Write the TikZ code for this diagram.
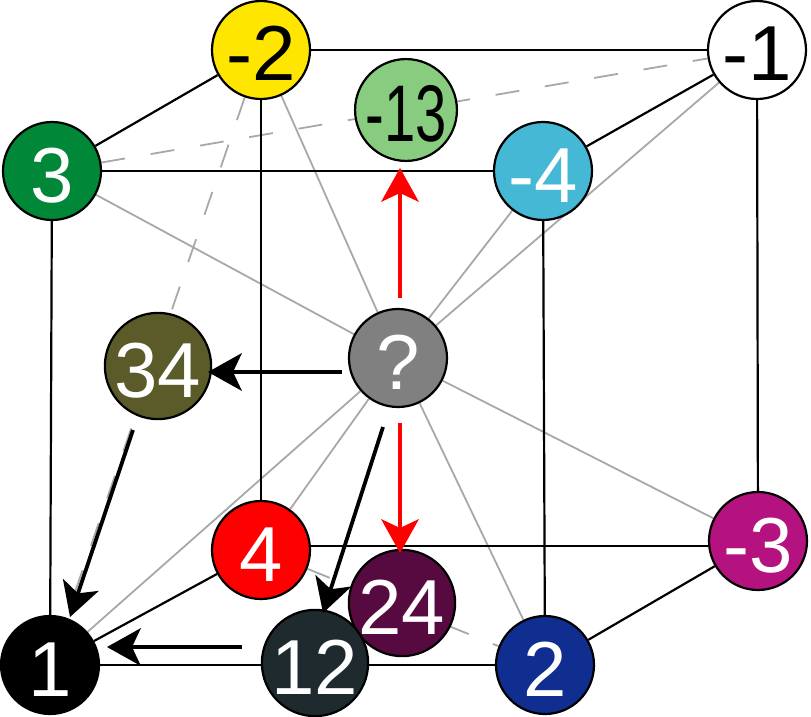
\documentclass[tikz,border=0pt]{standalone}
\usepackage{fontspec}
\setmainfont{Liberation Sans}
\usepackage{graphicx}
\usetikzlibrary{arrows.meta,calc}
\pgfdeclarelayer{bg}
\pgfsetlayers{bg,main}
\definecolor{cyel}{RGB}{255,230,0}
\definecolor{cgreen}{RGB}{0,136,56}
\definecolor{clgreen}{RGB}{136,204,127}
\definecolor{ccyan}{RGB}{69,184,214}
\definecolor{cgray}{RGB}{128,128,128}
\definecolor{colive}{RGB}{91,91,42}
\definecolor{cred}{RGB}{255,0,0}
\definecolor{cpurple}{RGB}{87,10,63}
\definecolor{cslate}{RGB}{30,42,46}
\definecolor{cblue}{RGB}{15,46,143}
\definecolor{cmag}{RGB}{179,18,127}
\definecolor{gline}{RGB}{168,168,168}
\begin{document}
\begin{tikzpicture}[x=1pt,y=-1pt,
  vtx/.style={circle,draw=black,line width=2.2pt,minimum size=98pt,inner sep=0pt,
    text height=62pt,text depth=0pt,
    font=\fontsize{78}{78}\selectfont,text=white},
  edge/.style={line width=2.2pt,draw=black},
  gsolid/.style={line width=1.8pt,draw=gline},
  gdash/.style={gsolid,dash pattern=on 24pt off 26pt},
  arr/.style={line width=3.8pt,draw=black,-{Stealth[length=34pt,width=38pt,inset=9pt,line width=0pt]}},
  rarr/.style={line width=3.6pt,draw=cred,-{Stealth[length=34pt,width=38pt,inset=9pt,line width=0pt]}}]
\useasboundingbox (0,0) rectangle (811,717);

\node[vtx,fill=cyel,text=black] (m2) at (261,50) {-2};
\node[vtx,fill=white,text=black] (m1) at (757,50) {-1};
\node[vtx,fill=cgreen] (n3) at (52,171) {3};
\node[vtx,fill=clgreen,text=black] (m13) at (406,110) {\scalebox{0.72}[1.03]{-13}};
\node[vtx,fill=ccyan] (m4) at (543,171) {-4};
\node[vtx,fill=cgray] (q) at (398,358) {?};
\node[vtx,fill=colive] (n34) at (158,366) {34};
\node[vtx,fill=cred] (n4) at (261,550) {4};
\node[vtx,fill=cpurple] (n24) at (402,603) {24};
\node[vtx,fill=cslate] (n12) at (315,663) {12};
\node[vtx,fill=black] (n1) at (50,665) {1};
\node[vtx,fill=cblue] (n2) at (545,665) {2};
\node[vtx,fill=cmag] (m3) at (758,541) {-3};

\begin{pgfonlayer}{bg}
  % gray lines from the centre
  \foreach \t in {m2,m1,n3,m4,n4,n1,n2,m3}
    \draw[gsolid] (q) -- (\t);
  % dashed face diagonals
  \draw[gdash] (n3) -- (m1);
  \draw[gdash] (m2) -- (n1);
  \draw[gdash] (n4) -- (n2);
  % cube edges
  \draw[edge] (m2) -- (m1);
  \draw[edge] (m2) -- (n3);
  \draw[edge] (m1) -- (m4);
  \draw[edge] (n3) -- (m4);
  \draw[edge] (n3) -- (n1);
  \draw[edge] (m4) -- (n2);
  \draw[edge] (m1) -- (m3);
  \draw[edge] (m2) -- (n4);
  \draw[edge] (n4 |- 0,546) -- (m3 |- 0,546);
  \draw[edge] (n4) -- (n1);
  \draw[edge] (n1) -- (n2);
  \draw[edge] (n2) -- (m3);
\end{pgfonlayer}

% arrows
\draw[arr] ($(q)+(-56,14)$) -- ($(n34)+(50,6)$);
\draw[arr] ($(n34)+(-25,64)$) -- ($(n1)+(20,-48)$);
\draw[arr] ($(q)+(-15,69)$) -- ($(n12)+(8,-50)$);
\draw[arr] ($(n12)+(-73,-16)$) -- ($(n1)+(57,-18)$);
\draw[rarr] ($(q)+(2,-60)$) -- ($(m13)+(-6,58)$);
\draw[rarr] ($(q)+(2,65)$) -- ($(n24)+(-2,-50)$);
\end{tikzpicture}
\end{document}
